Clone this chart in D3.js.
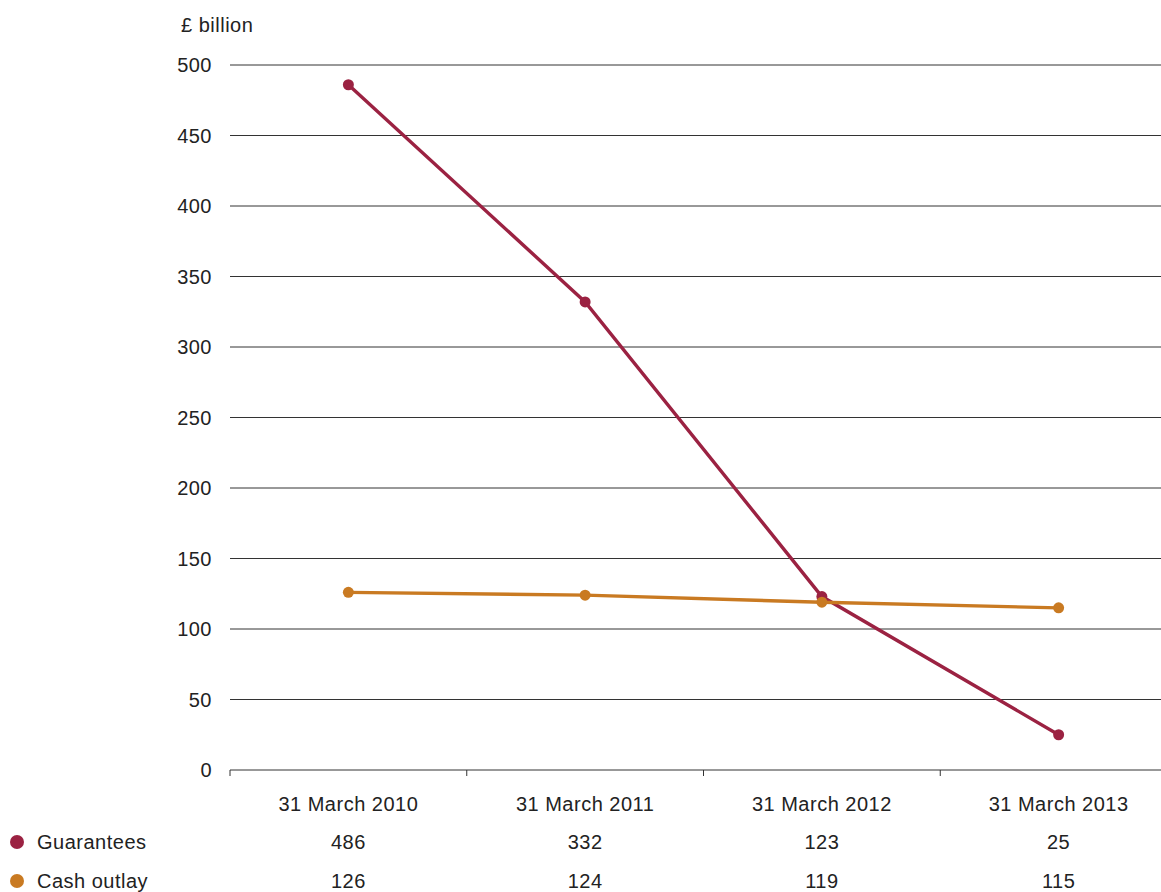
<!DOCTYPE html>
<html><head><meta charset="utf-8">
<script src="https://cdn.jsdelivr.net/npm/d3@7"></script>
<style>body{margin:0;background:#fff;} text{font-family:"Liberation Sans",Arial,sans-serif;fill:#222;letter-spacing:0.5px;}</style>
</head><body>
<svg id="c" width="1161" height="892"></svg>
<script>
const categories = ["31 March 2010","31 March 2011","31 March 2012","31 March 2013"];
const guarantees = [486, 332, 123, 25];
const cashOutlay = [126, 124, 119, 115];
const yTicks = [0,50,100,150,200,250,300,350,400,450,500];
const seriesNames = ["Guarantees","Cash outlay"];
const colors = ["#9b2242","#c97a22"];

const svg = d3.select("#c");
const x = d3.scaleBand().domain(categories).range([230, 1177]);
const y = d3.scaleLinear().domain([0,500]).range([770, 65]);
const fs = 20;

// gridlines
svg.append("g").selectAll("line").data(yTicks.filter(d=>d>0)).join("line")
  .attr("x1",230).attr("x2",1177).attr("y1",d=>y(d)).attr("y2",d=>y(d))
  .attr("stroke","#333").attr("stroke-width",1);

// y labels
svg.append("g").selectAll("text").data(yTicks).join("text")
  .attr("x",212).attr("y",d=>y(d)).attr("dy","0.35em").attr("text-anchor","end")
  .attr("font-size",fs).text(d=>d);

// x axis
const xa = svg.append("g").attr("transform","translate(0,770)")
  .call(d3.axisBottom(x).tickSize(0).tickFormat(""));
xa.select(".domain").attr("stroke","#333").attr("d","M230,0H1177");
const bounds = categories.map(c=>x(c));
xa.selectAll(".bt").data(bounds).join("line").attr("class","bt")
  .attr("x1",d=>d).attr("x2",d=>d).attr("y1",0).attr("y2",6).attr("stroke","#333");

svg.append("text").attr("x",181).attr("y",32).attr("font-size",fs).text("£ billion");

// category labels
svg.append("g").selectAll("text").data(categories).join("text")
  .attr("x",d=>x(d)+x.bandwidth()/2).attr("y",811).attr("text-anchor","middle")
  .attr("font-size",fs).text(d=>d);

// lines
const line = d3.line().x((d,i)=>x(categories[i])+x.bandwidth()/2).y(d=>y(d));
[guarantees, cashOutlay].forEach((s,k)=>{
  svg.append("path").datum(s).attr("d",line).attr("fill","none")
    .attr("stroke",colors[k]).attr("stroke-width",3.4);
});
[guarantees, cashOutlay].forEach((s,k)=>{
  svg.append("g").selectAll("circle").data(s).join("circle")
    .attr("cx",(d,i)=>x(categories[i])+x.bandwidth()/2).attr("cy",d=>y(d))
    .attr("r",5.5).attr("fill",colors[k]);
});

// table rows
const rows = [guarantees, cashOutlay];
const rowY = [849, 888];
rows.forEach((s,k)=>{
  svg.append("circle").attr("cx",17).attr("cy",rowY[k]-7).attr("r",7).attr("fill",colors[k]);
  svg.append("text").attr("x",37).attr("y",rowY[k]).attr("font-size",fs).text(seriesNames[k]);
  svg.append("g").selectAll("text").data(s).join("text")
    .attr("x",(d,i)=>x(categories[i])+x.bandwidth()/2).attr("y",rowY[k])
    .attr("text-anchor","middle").attr("font-size",fs).text(d=>d);
});
</script>
</body></html>
